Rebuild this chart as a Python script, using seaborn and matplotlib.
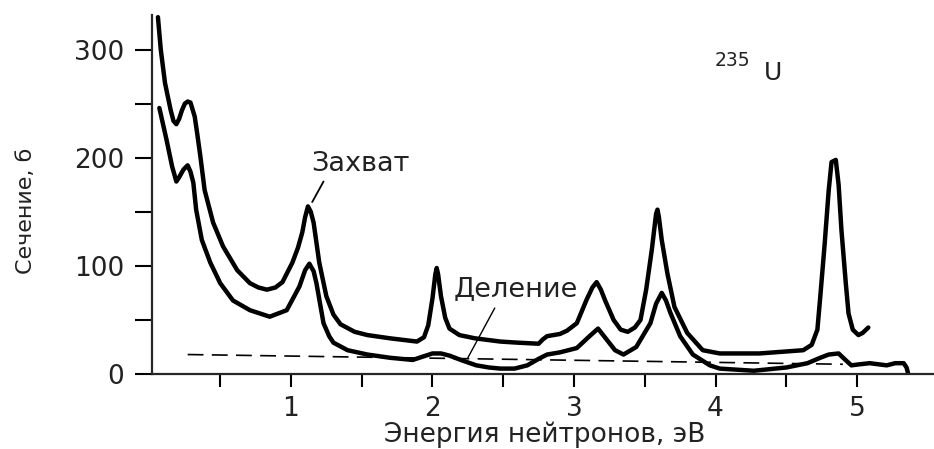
import matplotlib
matplotlib.use("Agg")
import matplotlib.pyplot as plt
import seaborn as sns
import pandas as pd

# upper curve (capture, "Захват")
capture_x = [0.06, 0.08, 0.11, 0.15, 0.17, 0.19, 0.21, 0.23, 0.25, 0.27, 0.29, 0.32,
             0.34, 0.36, 0.39, 0.45, 0.52, 0.62, 0.71, 0.77, 0.83, 0.89, 0.94, 1.01,
             1.05, 1.08, 1.10, 1.12, 1.14, 1.16, 1.20, 1.25, 1.30, 1.35, 1.45, 1.54,
             1.70, 1.89, 1.94, 1.97, 2.00, 2.02, 2.03, 2.04, 2.06, 2.09, 2.12, 2.19,
             2.30, 2.48, 2.60, 2.75, 2.78, 2.81, 2.90, 2.95, 3.02, 3.09, 3.13, 3.16,
             3.19, 3.22, 3.28, 3.33, 3.38, 3.43, 3.47, 3.51, 3.55, 3.58, 3.59, 3.60,
             3.62, 3.66, 3.71, 3.80, 3.91, 4.03, 4.31, 4.62, 4.68, 4.72, 4.74, 4.77,
             4.80, 4.82, 4.85, 4.87, 4.89, 4.92, 4.94, 4.97, 5.01, 5.04, 5.08]
capture_y = [330, 300, 269, 244, 234, 231, 236, 244, 250, 252, 251, 238,
             220, 201, 170, 140, 118, 96, 84, 80, 78, 80, 85, 103,
             117, 131, 145, 155, 150, 140, 103, 72, 55, 46, 39, 36,
             33, 30, 34, 45, 70, 92, 98, 92, 72, 52, 42, 36,
             33, 30, 29, 28, 32, 35, 37, 40, 47, 69, 80, 85,
             78, 68, 50, 41, 39, 43, 50, 78, 115, 148, 152, 145,
             124, 93, 62, 38, 22, 19, 19, 22, 27, 41, 71, 118,
             170, 196, 198, 175, 133, 85, 56, 41, 36, 38, 43]

# lower curve (fission, "Деление")
fission_x = [0.07, 0.12, 0.16, 0.19, 0.21, 0.24, 0.27, 0.29, 0.31, 0.33, 0.37, 0.43,
             0.50, 0.59, 0.71, 0.85, 0.97, 1.06, 1.10, 1.13, 1.16, 1.18, 1.23, 1.27,
             1.30, 1.40, 1.54, 1.70, 1.86, 1.93, 2.00, 2.06, 2.12, 2.20, 2.31, 2.40,
             2.48, 2.58, 2.67, 2.75, 2.81, 2.90, 3.02, 3.11, 3.17, 3.23, 3.29, 3.35,
             3.44, 3.54, 3.58, 3.62, 3.65, 3.68, 3.75, 3.84, 3.96, 4.03, 4.27, 4.50,
             4.65, 4.74, 4.80, 4.87, 4.91, 4.96, 5.02, 5.09, 5.15, 5.21, 5.27, 5.33,
             5.35, 5.36]
fission_y = [246, 217, 192, 178, 182, 189, 193, 187, 177, 152, 124, 103,
             84, 68, 59, 53, 59, 81, 96, 102, 95, 84, 47, 35,
             29, 22, 18, 15, 13, 16, 19, 19, 17, 13, 8, 6,
             5, 5, 8, 14, 18, 20, 24, 35, 42, 32, 22, 18,
             25, 47, 65, 75, 68, 57, 35, 18, 8, 5, 3, 6,
             10, 15, 18, 19, 14, 8, 9, 10, 9, 8, 10, 10,
             6, 1]

# dashed background line
bg_x = [0.27, 4.90]
bg_y = [18, 9]

x_major = [1, 2, 3, 4, 5]
x_minor = [0.5, 1.5, 2.5, 3.5, 4.5]
y_major = [0, 100, 200, 300]
y_minor = [50, 150, 250]

sns.set_style("ticks")
plt.rcParams["font.family"] = ["DejaVu Sans"]
plt.rcParams["text.color"] = "#222222"

fig = plt.figure(figsize=(9.34, 4.49), dpi=100)
ax = fig.add_axes([152 / 934, 75 / 449, 782 / 934, 359 / 449])

cap_df = pd.DataFrame({"x": capture_x, "y": capture_y})
fis_df = pd.DataFrame({"x": fission_x, "y": fission_y})
sns.lineplot(data=cap_df, x="x", y="y", sort=False, estimator=None,
             color="black", linewidth=3.2, ax=ax)
sns.lineplot(data=fis_df, x="x", y="y", sort=False, estimator=None,
             color="black", linewidth=3.2, ax=ax)
ax.plot(bg_x, bg_y, color="black", linewidth=1.2, dashes=(9.5, 5))

ax.set_xlim(0.018, 5.544)
ax.set_ylim(0, 332)
ax.set_xticks(x_major)
ax.set_xticks(x_minor, minor=True)
ax.set_yticks(y_major)
ax.set_yticks(y_minor, minor=True)
ax.tick_params(axis="x", which="both", length=9, width=1.5, direction="out",
               labelsize=19, pad=7, colors="black")
ax.tick_params(axis="y", which="both", length=12, width=1.5, direction="out",
               labelsize=19, pad=8, colors="black")
for lab in ax.get_xticklabels() + ax.get_yticklabels():
    lab.set_color("#222222")
sns.despine(ax=ax)
for side in ("left", "bottom"):
    ax.spines[side].set_linewidth(1.6)
ax.set_xlabel("")
ax.set_ylabel("")

fig.text(545 / 934, 1 - 442 / 449, "Энергия нейтронов, эВ", ha="center",
         va="baseline", fontsize=19)
fig.text(26 / 934, 1 - 211 / 449, "Сечение, б", ha="center", va="center",
         rotation=90, fontsize=16)

# curve labels with leader lines
ax.text(1.49, 194, "Захват", ha="center", va="center", fontsize=19.5)
ax.annotate("", xy=(1.15, 159), xytext=(1.23, 178),
            arrowprops=dict(arrowstyle="-", color="black", lw=1.3,
                            shrinkA=0, shrinkB=0))
ax.text(2.59, 79, "Деление", ha="center", va="center", fontsize=19.5)
ax.annotate("", xy=(2.25, 15), xytext=(2.44, 61),
            arrowprops=dict(arrowstyle="-", color="black", lw=1.0,
                            shrinkA=0, shrinkB=0))

# isotope label
fig.text(732 / 934, 1 - 61 / 449, "235", ha="center", va="center", fontsize=13.5)
fig.text(773 / 934, 1 - 73 / 449, "U", ha="center", va="center", fontsize=18)

fig.savefig("out.png", dpi=100)
